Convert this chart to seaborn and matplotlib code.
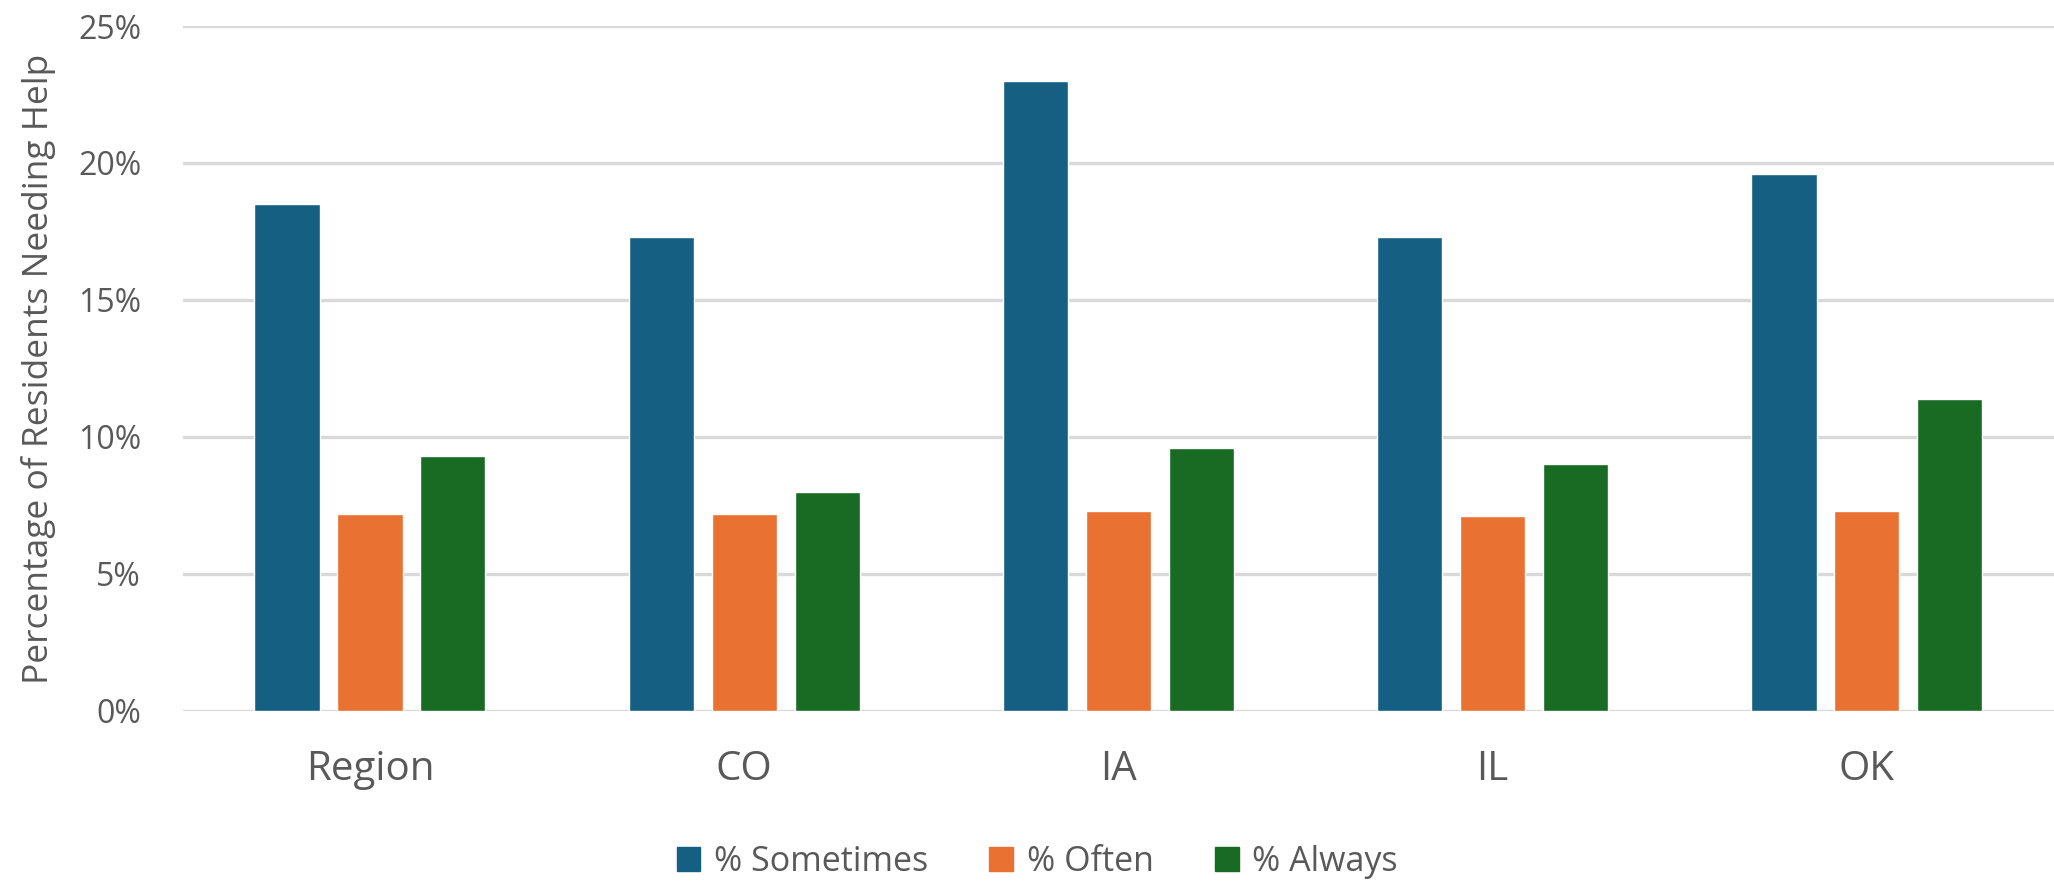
import matplotlib
matplotlib.use("Agg")
import matplotlib.pyplot as plt
import seaborn as sns
import pandas as pd
from matplotlib.ticker import PercentFormatter, MultipleLocator
from matplotlib.patches import Patch

categories = ["Region", "CO", "IA", "IL", "OK"]
series_names = ["% Sometimes", "% Often", "% Always"]
sometimes = [18.5, 17.3, 23.0, 17.3, 19.6]
often = [7.2, 7.2, 7.3, 7.1, 7.3]
always = [9.3, 8.0, 9.6, 9.0, 11.4]
colors = ["#156082", "#E97132", "#196B24"]
y_label = "Percentage of Residents Needing Help"

rows = []
for name, vals in zip(series_names, [sometimes, often, always]):
    for c, v in zip(categories, vals):
        rows.append({"cat": c, "series": name, "value": v})
df = pd.DataFrame(rows)

sns.set_theme(style="white")
plt.rcParams["font.family"] = ["Open Sans", "DejaVu Sans"]
text_color = "#595959"

fig = plt.figure(figsize=(20.54, 8.82), dpi=100)
ax = fig.add_axes([0.089, 0.194, 0.911, 0.7765])

sns.barplot(data=df, x="cat", y="value", hue="series", order=categories,
            hue_order=series_names, palette=colors, width=0.665, gap=0.214,
            saturation=1, ax=ax, legend=False, errorbar=None, zorder=3)

ax.set_xlim(-0.5, 4.5)
ax.set_ylim(0, 25)
ax.yaxis.set_major_locator(MultipleLocator(5))
ax.yaxis.set_major_formatter(PercentFormatter(decimals=0))
ax.grid(axis="y", color="#D9D9D9", linewidth=2.4, zorder=0)
ax.set_axisbelow(True)
for s in ax.spines.values():
    s.set_visible(False)
ax.tick_params(axis="both", length=0)
ax.tick_params(axis="y", pad=30, labelsize=23, labelcolor=text_color)
ax.tick_params(axis="x", pad=28, labelsize=29, labelcolor=text_color)
ax.set_xlabel("")
ax.set_ylabel(y_label, fontsize=25.5, color=text_color, labelpad=16)

handles = [Patch(facecolor=c, edgecolor=c) for c in colors]
fig.legend(handles, series_names, loc="center", bbox_to_anchor=(0.505, 0.023),
           ncol=3, frameon=False, fontsize=24.5, labelcolor=text_color,
           handlelength=0.7, handleheight=0.7, handletextpad=0.4, columnspacing=1.8)

fig.savefig("out.png", dpi=100)
